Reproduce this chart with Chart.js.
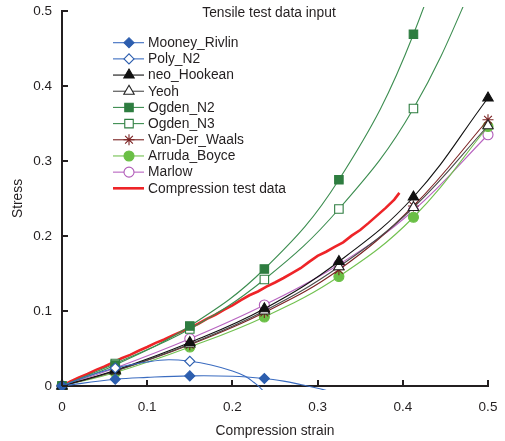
<!DOCTYPE html>
<html><head><meta charset="utf-8">
<script src="https://cdn.jsdelivr.net/npm/chart.js@4"></script>
<style>html,body{margin:0;padding:0;background:#fff;}canvas{display:block}</style>
</head><body>
<canvas id="c" width="505" height="441"></canvas>
<script>
// ---- data ----
const strain = [0, 0.0625, 0.15, 0.2375, 0.325, 0.4125, 0.5];
const xTicks = [0, 0.1, 0.2, 0.3, 0.4, 0.5];
const yTicks = [0, 0.1, 0.2, 0.3, 0.4, 0.5];

const mooneyStrain = [0, 0.0625, 0.1, 0.15, 0.2, 0.2375, 0.26, 0.28, 0.3, 0.32, 0.34];
const mooneyRivlin = [0, 0.009, 0.0115, 0.0135, 0.013, 0.010, 0.0065, 0.002, -0.003, -0.009, -0.016];
const mooneyMarks = [0, 0.0625, 0.15, 0.2375];

const polyStrain = [0, 0.03, 0.0625, 0.1, 0.125, 0.15, 0.175, 0.2, 0.215, 0.225, 0.235, 0.245];
const polyN2 = [0, 0.013, 0.024, 0.032, 0.035, 0.033, 0.028, 0.020, 0.013, 0.005, -0.005, -0.02];
const polyMarks = [0, 0.0625, 0.15];

const neoHookean  = [0, 0.021, 0.058, 0.103, 0.166, 0.252, 0.384];
const yeoh        = [0, 0.020, 0.056, 0.100, 0.159, 0.238, 0.347];
const ogdenN2     = [0, 0.028, 0.080, 0.156, 0.275, 0.469, 0.78];
const ogdenN3     = [0, 0.030, 0.076, 0.142, 0.236, 0.370, 0.58];
const vanDerWaals = [0, 0.020, 0.055, 0.098, 0.155, 0.240, 0.355];
const arrudaBoyce = [0, 0.018, 0.052, 0.092, 0.146, 0.225, 0.346];
const marlow      = [0, 0.024, 0.063, 0.108, 0.162, 0.234, 0.335];

const testStrain = [0,0.005,0.01,0.02,0.03,0.04,0.05,0.06,0.07,0.08,0.09,0.10,0.11,0.12,0.13,0.14,0.15,0.16,0.17,0.18,0.19,0.20,0.21,0.22,0.23,0.24,0.25,0.26,0.27,0.28,0.29,0.30,0.31,0.32,0.33,0.34,0.35,0.36,0.37,0.38,0.39,0.396];
const testStress = [0,0.003,0.006,0.0115,0.016,0.0215,0.026,0.0315,0.037,0.0415,0.047,0.052,0.0575,0.062,0.0675,0.0725,0.0775,0.083,0.0895,0.095,0.1015,0.1075,0.1145,0.121,0.126,0.1325,0.138,0.144,0.1505,0.157,0.1655,0.1735,0.179,0.1855,0.1915,0.2005,0.208,0.2175,0.2275,0.2375,0.2485,0.2575];

const chartTitle = 'Tensile test data input';
const xTitle = 'Compression strain';
const yTitle = 'Stress';

// ---- styling ----
const FONT = '"Liberation Sans", Arial, Helvetica, sans-serif';
const TEXT = '#231f20';
const AXIS = '#231f20';
const CLIP = {left: 8, right: 8, top: 4, bottom: 4};

function pts(xs, ys) { return xs.map((x, i) => ({x: x, y: ys[i]})); }
function radii(xs, marks, r) { return xs.map(x => marks.some(m => Math.abs(m - x) < 1e-9) ? r : 0); }

const series = [
  {label: 'Mooney_Rivlin', xs: mooneyStrain, ys: mooneyRivlin, marks: mooneyMarks, line: '#3b6cc0', fill: '#2d5eae', stroke: '#2d5eae', style: 'rectRot', r: 5},
  {label: 'Poly_N2', xs: polyStrain, ys: polyN2, marks: polyMarks, line: '#3b6cc0', fill: '#ffffff', stroke: '#2d5eae', style: 'rectRot', r: 5},
  {label: 'neo_Hookean', xs: strain, ys: neoHookean, marks: strain, line: '#111111', fill: '#111111', stroke: '#111111', style: 'triangle', r: 6},
  {label: 'Yeoh', xs: strain, ys: yeoh, marks: strain, line: '#4a4a4a', fill: '#ffffff', stroke: '#222222', style: 'triangle', r: 6},
  {label: 'Ogden_N2', xs: strain, ys: ogdenN2, marks: strain, line: '#3c8d50', fill: '#2e7d40', stroke: '#2e7d40', style: 'rect', r: 6},
  {label: 'Ogden_N3', xs: strain, ys: ogdenN3, marks: strain, line: '#3c8d50', fill: '#ffffff', stroke: '#2e7d40', style: 'rect', r: 6},
  {label: 'Van-Der_Waals', xs: strain, ys: vanDerWaals, marks: strain, line: '#7b2222', fill: '#7b2222', stroke: '#7b2222', style: 'star', r: 5.5},
  {label: 'Arruda_Boyce', xs: strain, ys: arrudaBoyce, marks: strain, line: '#72c150', fill: '#6abf45', stroke: '#6abf45', style: 'circle', r: 5},
  {label: 'Marlow', xs: strain, ys: marlow, marks: strain, line: '#b864c0', fill: '#ffffff', stroke: '#b05cb8', style: 'circle', r: 5},
];

const datasets = series.map(s => ({
  label: s.label,
  data: pts(s.xs, s.ys),
  borderColor: s.line,
  borderWidth: 1.1,
  tension: 0.4,
  pointStyle: s.style,
  pointRadius: radii(s.xs, s.marks, s.r),
  pointBackgroundColor: s.fill,
  pointBorderColor: s.stroke,
  pointBorderWidth: 1.1,
  clip: CLIP
}));
datasets.push({
  label: 'Compression test data',
  data: pts(testStrain, testStress),
  borderColor: '#ee2428',
  borderWidth: 2.6,
  tension: 0,
  pointRadius: 0,
  clip: CLIP
});

const decor = {
  id: 'decor',
  afterDraw(chart) {
    const ctx = chart.ctx, a = chart.chartArea, xs = chart.scales.x, ys = chart.scales.y;
    ctx.save();
    // inward tick marks
    ctx.strokeStyle = AXIS; ctx.lineWidth = 2;
    xs.ticks.forEach(t => {
      const px = Math.round(xs.getPixelForValue(t.value));
      ctx.beginPath(); ctx.moveTo(px, a.bottom); ctx.lineTo(px, a.bottom - 6); ctx.stroke();
    });
    ys.ticks.forEach(t => {
      const py = Math.round(ys.getPixelForValue(t.value));
      ctx.beginPath(); ctx.moveTo(a.left, py); ctx.lineTo(a.left + 6, py); ctx.stroke();
    });
    // titles
    ctx.fillStyle = TEXT;
    ctx.font = '13.8px ' + FONT;
    ctx.textAlign = 'center'; ctx.textBaseline = 'middle';
    ctx.fillText(chartTitle, 269, 13.5);
    ctx.fillText(xTitle, (a.left + a.right) / 2, 431);
    ctx.save();
    ctx.translate(18.5, (a.top + a.bottom) / 2);
    ctx.rotate(-Math.PI / 2);
    ctx.fillText(yTitle, 0, 0);
    ctx.restore();
    // legend
    const x0 = 113, x1 = 144, mx = 129, tx = 148, yStart = 42.7, dy = 16.18;
    const H = Chart.helpers;
    chart.data.datasets.forEach((ds, i) => {
      const yy = yStart + i * dy;
      ctx.strokeStyle = ds.borderColor;
      ctx.lineWidth = ds.borderWidth;
      ctx.beginPath(); ctx.moveTo(x0, yy); ctx.lineTo(x1, yy); ctx.stroke();
      const s = series[i];
      if (s && H && H.drawPoint) {
        ctx.fillStyle = s.fill; ctx.strokeStyle = s.stroke; ctx.lineWidth = 1.1;
        H.drawPoint(ctx, {pointStyle: s.style, radius: s.r, rotation: 0, borderWidth: 1.1}, mx, yy);
      }
      ctx.fillStyle = TEXT;
      ctx.font = '13.8px ' + FONT;
      ctx.textAlign = 'left'; ctx.textBaseline = 'middle';
      ctx.fillText(ds.label, tx, yy + 0.5);
    });
    ctx.restore();
  }
};

new Chart(document.getElementById('c'), {
  type: 'line',
  data: {datasets: datasets},
  plugins: [decor],
  options: {
    responsive: false,
    animation: false,
    events: [],
    layout: {padding: {left: 0, right: 17, top: 11, bottom: 0}},
    plugins: {legend: {display: false}, tooltip: {enabled: false}, title: {display: false}},
    elements: {line: {capBezierPoints: false}},
    scales: {
      x: {
        type: 'linear', min: 0, max: 0.5,
        afterBuildTicks: sc => { sc.ticks = xTicks.map(v => ({value: v})); },
        afterFit: sc => { sc.height = 55; sc.paddingLeft = 0; sc.paddingRight = 0; },
        grid: {display: false, drawTicks: false},
        border: {display: true, color: AXIS, width: 2},
        ticks: {color: TEXT, font: {family: FONT, size: 13.5}, padding: 13, maxRotation: 0,
                callback: v => String(+v.toFixed(1))}
      },
      y: {
        type: 'linear', min: 0, max: 0.5,
        afterBuildTicks: sc => { sc.ticks = yTicks.map(v => ({value: v})); },
        afterFit: sc => { sc.width = 62; sc.paddingTop = 0; sc.paddingBottom = 0; },
        grid: {display: false, drawTicks: false},
        border: {display: true, color: AXIS, width: 2},
        ticks: {color: TEXT, font: {family: FONT, size: 13.5}, padding: 10,
                callback: v => String(+v.toFixed(1))}
      }
    }
  }
});
</script>
</body></html>
